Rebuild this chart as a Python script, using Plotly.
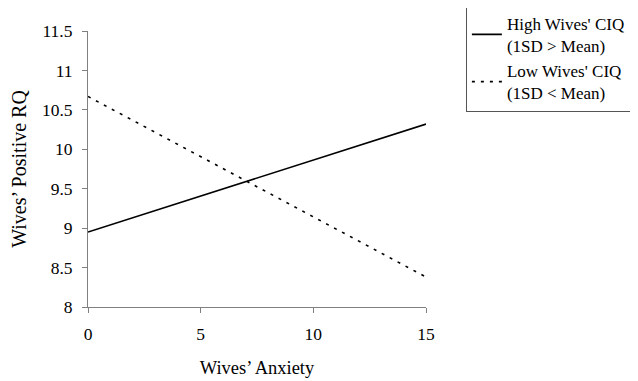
import plotly.graph_objects as go

anxiety = [0, 15]
high_ciq = [8.95, 10.32]
low_ciq = [10.67, 8.38]
series_names = ["High Wives' CIQ<br>(1SD > Mean)", "Low Wives' CIQ<br>(1SD < Mean)"]
x_ticks = [0, 5, 10, 15]
y_ticks = [8, 8.5, 9, 9.5, 10, 10.5, 11, 11.5]

font = "Liberation Serif, Times New Roman, serif"

fig = go.Figure()
fig.add_trace(go.Scatter(x=anxiety, y=high_ciq, mode="lines", name=series_names[0],
                         line=dict(color="black", width=1.6)))
fig.add_trace(go.Scatter(x=anxiety, y=low_ciq, mode="lines", name=series_names[1],
                         line=dict(color="black", width=1.6, dash="3px,6px")))

fig.update_layout(
    width=630, height=373,
    margin=dict(l=80, r=212, t=23, b=74, autoexpand=False),
    paper_bgcolor="white", plot_bgcolor="white",
    font=dict(family=font, size=16, color="black"),
    showlegend=True,
    legend=dict(x=1.118, y=1.095, xanchor="left", yanchor="top",
                bordercolor="#555", borderwidth=1, bgcolor="white",
                font=dict(family=font, size=17, color="black"),
                tracegroupgap=0, itemwidth=30),
    xaxis=dict(range=[0, 15], tickvals=x_ticks, showgrid=False, zeroline=False,
               showline=True, linecolor="#808080", linewidth=1,
               ticks="outside", ticklen=5, tickcolor="#808080",
               ticklabelstandoff=6, automargin=False,
               tickfont=dict(family=font, size=17.5),
               title=dict(text="Wives’ Anxiety", standoff=18,
                          font=dict(family=font, size=18.5))),
    yaxis=dict(range=[8, 11.5], tickvals=y_ticks, showgrid=False, zeroline=False,
               showline=True, linecolor="#808080", linewidth=1,
               ticks="outside", ticklen=5, tickcolor="#808080",
               ticklabelstandoff=6, automargin=False,
               tickfont=dict(family=font, size=17.5),
               title=dict(text="Wives’ Positive RQ", standoff=13,
                          font=dict(family=font, size=20))),
)

fig.write_html("out.html")
